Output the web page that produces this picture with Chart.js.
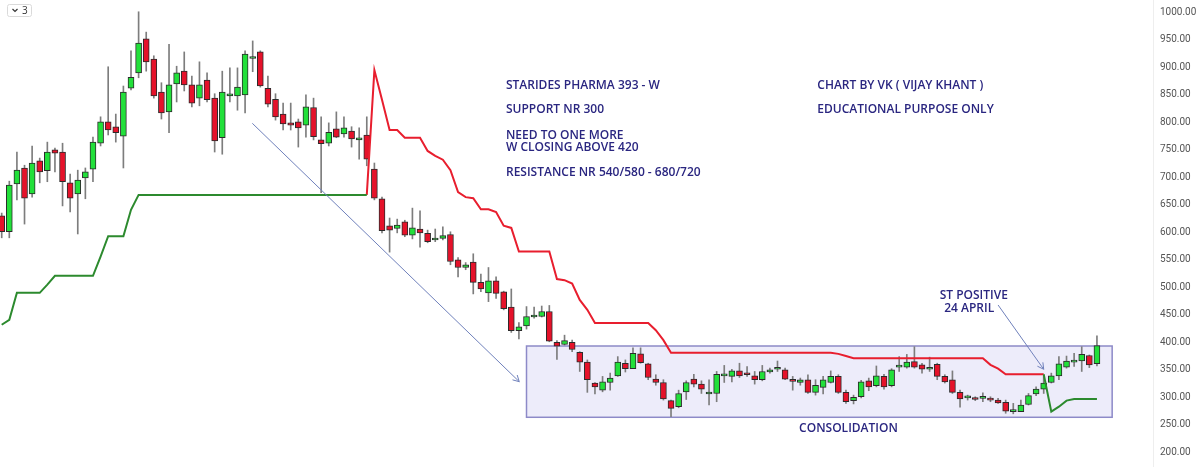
<!DOCTYPE html>
<html><head><meta charset="utf-8">
<script src="https://cdn.jsdelivr.net/npm/chart.js@4.4.1/dist/chart.umd.min.js"></script>
<style>html,body{margin:0;padding:0;background:#fff;}#wrap{width:1200px;height:467px;position:relative;}</style>
</head><body><div id="wrap"><canvas id="c"></canvas></div>
<script>
// ---- weekly OHLC ----
const opens=[630,601,688,717,670,730,712,750,746,690,670,699,715,762,801,792,775,862,890,952,915,855,819,870,893,868,844,877,844,772,848,848,850,916,928,862,842,815,799,801,795,827,768,762,788,779,784,768,777,715,661,612,607,619,595,606,598,586,589,596,550,536,546,509,490,512,492,464,421,430,446,447,456,400,396,400,382,364,326,313,327,339,362,352,379,361,333,327,294,283,310,333,324,306,307,339,338,348,344,339,332,346,351,350,330,327,332,309,318,327,338,309,294,301,330,321,338,321,355,355,365,359,351,360,338,332,309,299,298,298,296,295,291,274,274,287,306,315,327,339,355,364,366,376,361];
const highs=[635,693,746,722,757,735,764,753,762,706,713,717,773,810,901,815,866,930,1001,964,921,872,942,902,928,884,910,890,852,893,899,899,930,948,930,884,852,835,835,806,850,844,810,799,819,810,792,790,810,726,664,626,624,622,644,639,604,606,610,601,554,545,561,524,536,519,493,497,436,465,464,466,467,403,413,404,383,368,327,338,344,374,368,390,390,362,341,332,295,313,330,342,330,332,347,358,351,362,356,347,358,353,366,353,338,335,341,332,338,348,341,313,304,331,335,357,342,352,374,378,392,362,373,362,341,348,313,304,301,308,301,298,295,289,295,307,319,338,344,374,375,380,392,377,412];
const lows=[590,590,659,615,664,690,692,710,648,637,597,661,692,757,777,764,717,859,881,893,844,806,781,837,857,828,830,837,746,742,837,822,817,892,864,828,804,786,786,755,773,768,672,757,772,773,755,733,721,659,599,564,599,592,588,573,581,583,586,541,519,532,488,492,474,480,459,418,406,424,444,446,401,369,395,383,347,309,306,310,313,338,346,352,362,332,322,295,265,281,296,319,307,286,292,327,328,336,338,324,330,344,347,332,313,322,307,304,306,326,307,289,288,299,312,319,315,319,347,353,353,344,347,332,326,307,282,295,294,292,292,289,271,270,274,286,303,307,326,332,353,356,347,354,357];
const closes=[601,686,713,662,726,710,746,744,692,662,695,710,764,801,786,781,855,882,944,910,848,817,868,890,868,835,868,841,766,855,852,864,924,918,866,833,810,797,795,790,828,774,761,782,773,790,770,772,733,662,603,604,613,595,608,599,583,587,594,547,536,541,509,497,512,489,461,421,428,447,447,456,402,393,403,387,364,332,319,328,335,364,352,380,363,336,327,297,280,307,327,324,315,308,342,340,348,339,341,332,347,350,352,333,329,332,309,322,332,338,309,292,300,328,319,339,319,350,356,364,355,351,352,338,328,309,297,300,296,299,295,290,275,275,286,303,315,326,339,361,366,367,378,359,394];
// ---- SuperTrend (green = up / support, red = down / resistance), one value per week ----
const N=null;
const stUp=[
 432,441,490,490,490,490,505,521,521,521,   // 0-9
 521,521,521,556,593,593,593,641,668,668,   // 10-19
 668,668,668,668,668,668,668,668,668,668,   // 20-29
 668,668,668,668,668,668,668,668,668,668,   // 30-39
 668,668,668,668,668,668,668,668,668,N,     // 40-49
 N,N,N,N,N,N,N,N,N,N, N,N,N,N,N,N,N,N,N,N,  // 50-69
 N,N,N,N,N,N,N,N,N,N, N,N,N,N,N,N,N,N,N,N,  // 70-89
 N,N,N,N,N,N,N,N,N,N, N,N,N,N,N,N,N,N,N,N,  // 90-109
 N,N,N,N,N,N,N,N,N,N, N,N,N,N,N,N,N,N,N,N,  // 110-129
 N,N,N,N,N,N,N,342,274,283,                 // 130-139
 294,297,297,297,297];                      // 140-144
const stDown=[
 N,N,N,N,N,N,N,N,N,N, N,N,N,N,N,N,N,N,N,N,  // 0-19
 N,N,N,N,N,N,N,N,N,N, N,N,N,N,N,N,N,N,N,N,  // 20-39
 N,N,N,N,N,N,N,N,668,895,                   // 40-49
 841,786,786,772,772,772,748,739,732,713,   // 50-59
 673,664,662,642,642,637,612,608,565,565,   // 60-69
 565,565,565,515,513,507,477,459,435,435,   // 70-79
 435,435,435,435,435,435,422,404,381,381,   // 80-89
 381,381,381,381,381,381,381,381,381,381,   // 90-99
 381,381,381,381,381,381,381,381,381,381,   // 100-109
 379,375,371,371,371,371,371,371,371,371,   // 110-119
 371,371,371,371,371,371,371,371,371,371,   // 120-129
 359,352,342,342,342,342,342,342,N,N,       // 130-139
 N,N,N,N,N];                                // 140-144
const yTicks=[200,250,300,350,400,450,500,550,600,650,700,750,800,850,900,950,1000];

// ---- annotations (data coordinates: candle index, price) ----
const zoneBox={x0:69.0,x1:146.0,lo:263.7,hi:393.3};
const arrows=[{from:[32.95,798.2],to:[68.05,328.4]},{from:[131.0,467.9],to:[137.0,351.0]}];
const notes=[
 {t:'STARIDES PHARMA 393 - W',x:66.3,y:866.0,a:'left'},
 {t:'SUPPORT NR 300',x:66.3,y:822.4,a:'left'},
 {t:'NEED TO ONE MORE',x:66.3,y:776.0,a:'left'},
 {t:'W CLOSING ABOVE 420',x:66.3,y:753.3,a:'left'},
 {t:'RESISTANCE NR 540/580 - 680/720',x:66.3,y:707.9,a:'left'},
 {t:'CHART BY VK ( VIJAY KHANT )',x:107.23,y:866.0,a:'left'},
 {t:'EDUCATIONAL PURPOSE ONLY',x:107.23,y:822.4,a:'left'},
 {t:'CONSOLIDATION',x:111.33,y:243.8,a:'center'},
 {t:'ST POSITIVE',x:127.81,y:484.2,a:'center'},
 {t:'24 APRIL',x:127.2,y:461.1,a:'center'}
];

const idx=opens.map((_,i)=>i);
const GREEN='#22E03A', RED='#E5122A';
const bodies=idx.map(i=>({x:i,y:[opens[i],closes[i]]}));
const wicks=idx.map(i=>({x:i,y:[lows[i],highs[i]]}));
const upPts=idx.map(i=>({x:i,y:stUp[i]}));
const dnPts=idx.map(i=>({x:i,y:stDown[i]}));

const annot={
 id:'annot',
 beforeDatasetsDraw(ch){
  const {ctx,scales:{x,y}}=ch;
  const l=x.getPixelForValue(zoneBox.x0), r=x.getPixelForValue(zoneBox.x1);
  const t=y.getPixelForValue(zoneBox.hi), b=y.getPixelForValue(zoneBox.lo);
  ctx.save();
  ctx.fillStyle='rgba(200,196,240,0.33)';
  ctx.fillRect(l,t,r-l,b-t);
  ctx.strokeStyle='#8D8AC8'; ctx.lineWidth=1.5;
  ctx.strokeRect(l,t,r-l,b-t);
  ctx.restore();
 },
 afterDatasetsDraw(ch){
  const {ctx,scales:{x,y}}=ch;
  ctx.save();
  ctx.strokeStyle='#6F80BB'; ctx.lineWidth=1;
  arrows.forEach(a=>{
   const x1=x.getPixelForValue(a.from[0]), y1=y.getPixelForValue(a.from[1]);
   const x2=x.getPixelForValue(a.to[0]), y2=y.getPixelForValue(a.to[1]);
   ctx.beginPath(); ctx.moveTo(x1,y1); ctx.lineTo(x2,y2); ctx.stroke();
   const ang=Math.atan2(y2-y1,x2-x1), L=7;
   ctx.beginPath();
   ctx.moveTo(x2-L*Math.cos(ang-0.5),y2-L*Math.sin(ang-0.5));
   ctx.lineTo(x2,y2);
   ctx.lineTo(x2-L*Math.cos(ang+0.5),y2-L*Math.sin(ang+0.5));
   ctx.stroke();
  });
  // text
  ctx.font='600 13px "Open Sans"';
  const w=ctx.measureText('STARIDES PHARMA 393 - W').width;
  const fs=13*154/w;
  ctx.font='600 '+fs.toFixed(2)+'px "Open Sans"';
  ctx.fillStyle='#2A2680'; ctx.textBaseline='middle';
  notes.forEach(n=>{
   ctx.textAlign=n.a;
   ctx.fillText(n.t,x.getPixelForValue(n.x),y.getPixelForValue(n.y));
  });
  // small widget top-left
  ctx.strokeStyle='#DADADA'; ctx.lineWidth=1;
  ctx.beginPath(); ctx.roundRect(7.5,4.5,24,12,2); ctx.stroke();
  ctx.strokeStyle='#333'; ctx.lineWidth=1.2;
  ctx.beginPath(); ctx.moveTo(12.5,9); ctx.lineTo(15,11.5); ctx.lineTo(17.5,9); ctx.stroke();
  ctx.fillStyle='#333'; ctx.font='10px "Open Sans"'; ctx.textAlign='left';
  ctx.fillText('3',22,10.8);
  ctx.restore();
 }
};

new Chart(document.getElementById('c'),{
 type:'bar',
 data:{datasets:[
  {type:'line',label:'ST up',data:upPts,borderColor:'#2C8A2E',borderWidth:2,pointRadius:0,tension:0,fill:false,spanGaps:false,order:0},
  {type:'line',label:'ST down',data:dnPts,borderColor:'#E81E2E',borderWidth:2,pointRadius:0,tension:0,fill:false,spanGaps:false,order:0},
  {label:'body',data:bodies,grouped:false,barThickness:6,minBarLength:2,borderWidth:1,borderSkipped:false,borderColor:'#2b2b2b',
   backgroundColor:c=>{const i=c.dataIndex;return closes[i]>=opens[i]?GREEN:RED;},order:1},
  {label:'wick',data:wicks,grouped:false,barThickness:1,backgroundColor:'#7d7d7d',borderWidth:0,order:2}
 ]},
 options:{
  responsive:true,maintainAspectRatio:false,animation:false,
  layout:{padding:0},
  plugins:{legend:{display:false},tooltip:{enabled:false}},
  scales:{
   x:{type:'linear',display:false,min:-0.2235,max:151.37,offset:false},
   y:{type:'linear',position:'right',min:173.3,max:1022.4,
      afterBuildTicks:s=>{s.ticks=yTicks.map(v=>({value:v}));},
      afterFit:s=>{s.width=47;s.paddingTop=0;s.paddingBottom=0;},
      grid:{display:false,drawTicks:false},
      border:{display:true,color:'#EEEEEE',width:1},
      ticks:{padding:7,color:'#555',font:{family:'Roboto',size:10},callback:v=>Number(v).toFixed(2)}}
  }
 },
 plugins:[annot]
});
</script></body></html>
